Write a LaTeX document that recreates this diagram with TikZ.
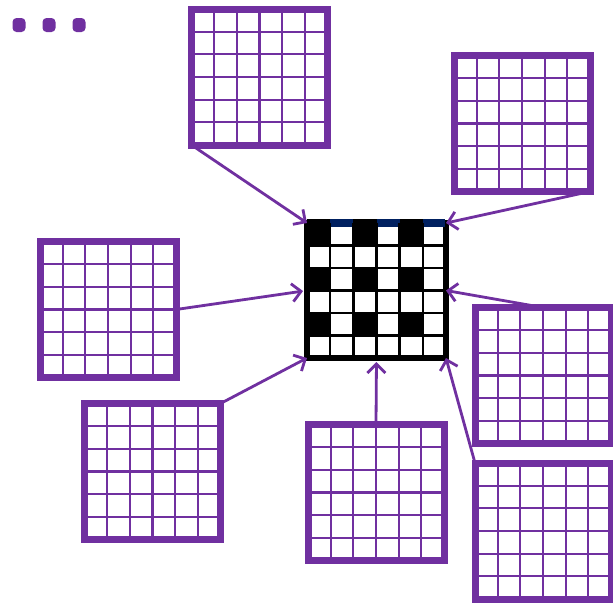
\documentclass[tikz,border=0pt]{standalone}
\usetikzlibrary{arrows.meta,calc}

\definecolor{gridpurple}{HTML}{7030A0}
\definecolor{corenavy}{HTML}{002060}

\tikzset{
  grid frame/.style={draw=gridpurple, line width=7pt, minimum width=136pt,
    minimum height=136pt, inner sep=0pt, outer sep=0pt},
  grid line/.style={draw=gridpurple, line width=2.2pt},
  core frame/.style={draw=black, fill=white, line width=6pt, minimum width=139pt,
    minimum height=135pt, inner sep=0pt, outer sep=0pt},
  core line/.style={draw=black, line width=2.5pt},
  dot/.style={fill=gridpurple, rounded corners=4pt, minimum width=13pt,
    minimum height=14pt, inner sep=0pt},
  feed/.style={draw=gridpurple, line width=2.8pt,
    -{Straight Barb[length=9pt,width=18pt]}},
}

% 6x6 purple grid: name, centre x, centre y
\newcommand{\purplegrid}[3]{%
  \node[grid frame] (#1) at (#2,#3) {};
  \foreach \k in {1,...,5} {
    \draw[grid line] ($(#1.north west)!\k/6!(#1.north east)$) -- ($(#1.south west)!\k/6!(#1.south east)$);
    \draw[grid line] ($(#1.north west)!\k/6!(#1.south west)$) -- ($(#1.north east)!\k/6!(#1.south east)$);
  }
}

\begin{document}
\begin{tikzpicture}[x=1pt, y=-1pt]
  \useasboundingbox (0,0) rectangle (613,603);

  % dots top left
  \foreach \x [count=\i] in {19,49,79}
    \node[dot] (dot\i) at (\x,25) {};

  % outer grids
  \purplegrid{gtop}{259.5}{77}
  \purplegrid{gtopright}{522}{123.5}
  \purplegrid{gleft}{108}{309.5}
  \purplegrid{gbotleft}{152.5}{471.5}
  \purplegrid{gbotcenter}{376}{492.5}
  \purplegrid{grightmid}{543}{375.5}
  \purplegrid{gbotright}{543}{531}

  % central grid
  \node[core frame] (core) at (376.5,290.5) {};
  \draw[corenavy, line width=8pt] ($(core.north west)+(2,0)$) -- ($(core.north east)+(-1,0)$);
  \begin{scope}[shift={(core.north west)}]
    \foreach \c in {0,2,4}
      \foreach \r in {0,2,4}
        \fill[black] (\c*23.17, \r*22.5) rectangle ++(23.17,22.5);
    \foreach \c in {0,2,4}
      \fill[black] (\c*23.17,-4) rectangle ++(23.17,5);
    \foreach \k in {1,...,5} {
      \draw[core line] (\k*23.17,0) -- (\k*23.17,135);
      \draw[core line] (0,\k*22.5) -- (139,\k*22.5);
    }
  \end{scope}

  % arrows into the centre
  \draw[feed] (gtop.south west) -- (core.north west);
  \draw[feed] (gtopright.south east) -- (core.north east);
  \draw[feed, shorten >=4pt] (gleft.east) -- (core.west);
  \draw[feed] (gbotleft.north east) -- (core.south west);
  \draw[feed, shorten >=4pt] (gbotcenter.north) -- (core.south);
  \draw[feed] (grightmid.north) -- (core.east);
  \draw[feed] (gbotright.north west) -- (core.south east);
\end{tikzpicture}
\end{document}
